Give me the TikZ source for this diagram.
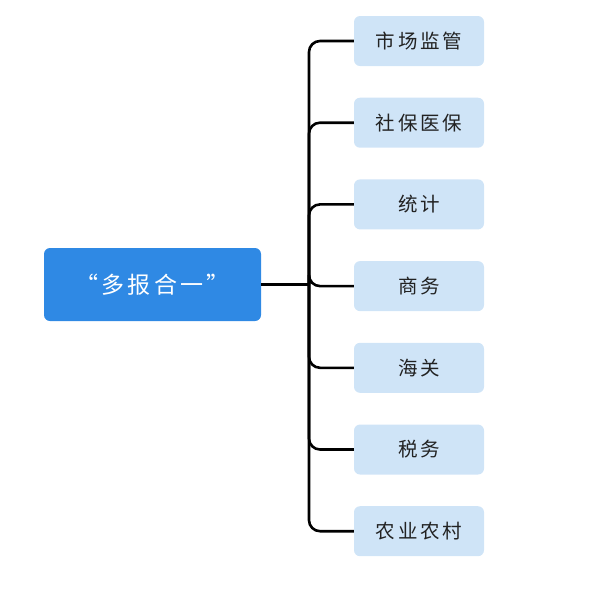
\documentclass[tikz,border=0pt]{standalone}
\usepackage{fontspec}
\newfontfamily\cjk[LetterSpace=14]{Noto Sans CJK SC}
\usetikzlibrary{positioning}
\definecolor{rootblue}{HTML}{2F89E4}
\definecolor{leafblue}{HTML}{CFE4F7}
\definecolor{leaftext}{HTML}{222222}

\begin{document}
\begin{tikzpicture}[
      x=1pt, y=-1pt,
      node distance=31.3pt,
      root/.style={fill=rootblue, rounded corners=6pt, minimum width=217pt, minimum height=73pt, text=white, font=\cjk\fontsize{23}{27}\selectfont},
      leaf/.style={fill=leafblue, rounded corners=6pt, minimum width=130pt, minimum height=50pt, text=leaftext, font=\cjk\fontsize{19.5}{23}\selectfont},
      link/.style={line width=2.6pt, rounded corners=11pt}
    ]
    \useasboundingbox (0,0) rectangle (600,598);
    \node[root] (hub) at (152.5,284.5) {“多报合一”};
    \node[leaf] (market) at (419,41) {市场监管};
    \node[leaf, below=of market] (social) {社保医保};
    \node[leaf, below=of social] (stats) {统计};
    \node[leaf, below=of stats] (trade) {商务};
    \node[leaf, below=of trade] (customs) {海关};
    \node[leaf, below=of customs] (tax) {税务};
    \node[leaf, below=of tax] (farm) {农业农村};

    \coordinate (fork) at (309,284.5);
    \draw[link] (hub.east) -- (fork);
    \draw[link] (fork) |- (market.west);
    \draw[link] (fork) |- (social.west);
    \draw[link] (fork) |- (stats.west);
    \draw[link] (fork) |- (trade.west);
    \draw[link] (fork) |- (customs.west);
    \draw[link] (fork) |- (tax.west);
    \draw[link] (fork) |- (farm.west);
  \end{tikzpicture}
\end{document}
